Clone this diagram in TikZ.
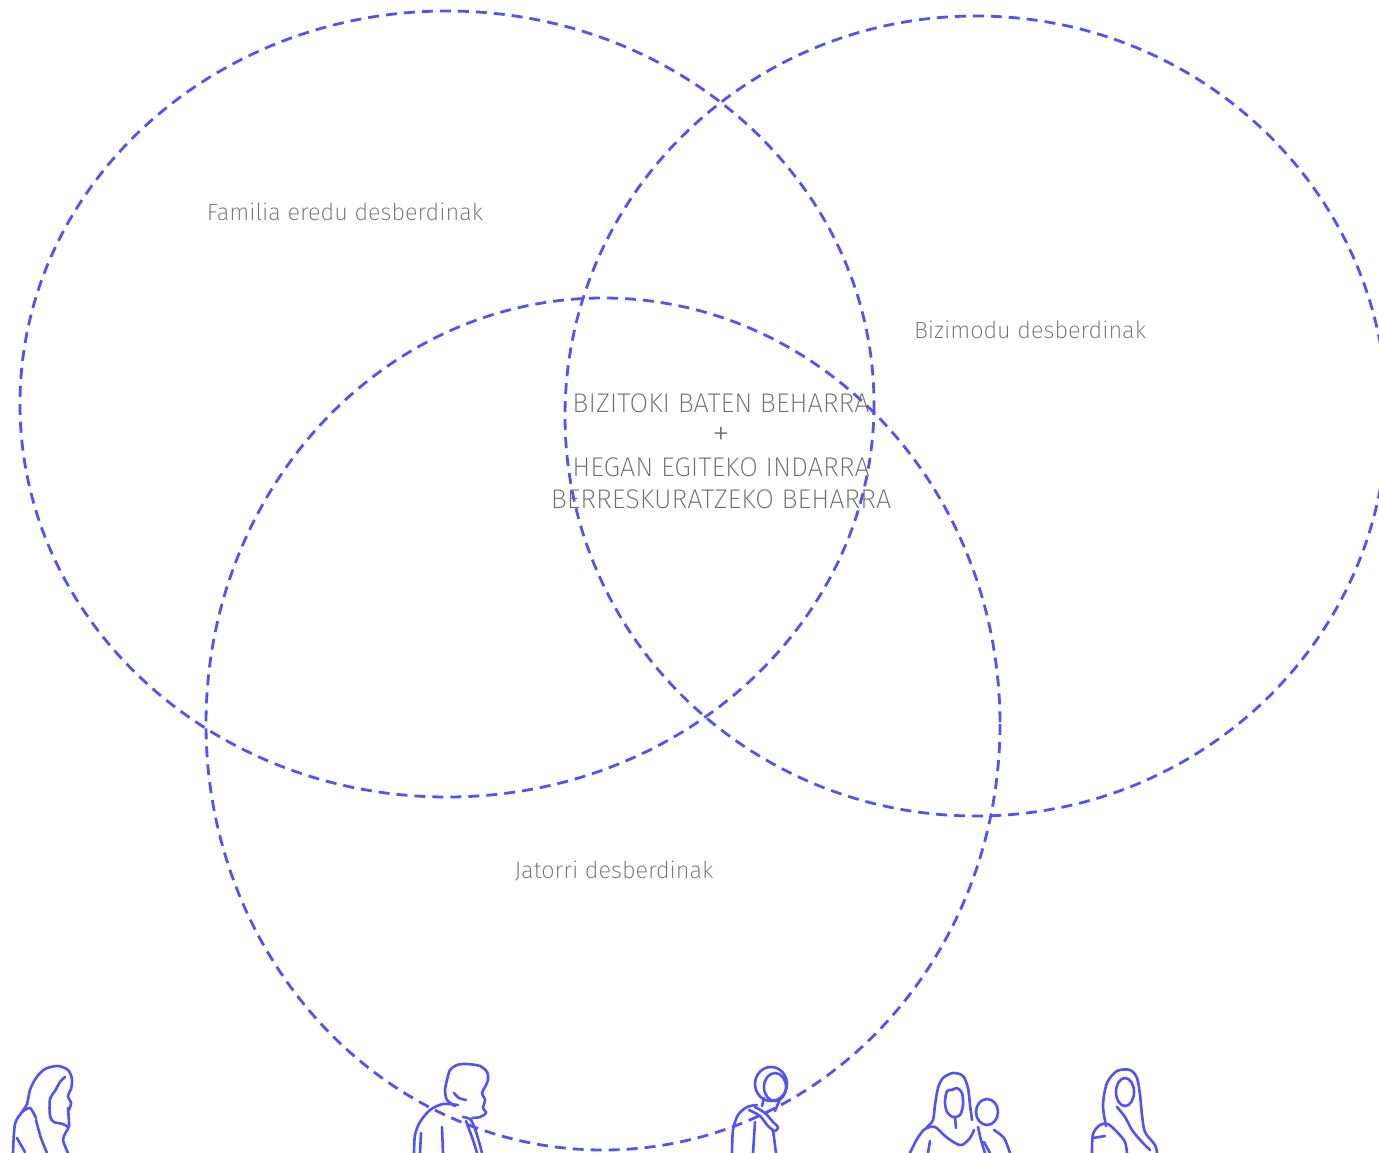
\documentclass[tikz,border=0pt]{standalone}
\usepackage{fontspec}
\newfontfamily\thinfont{Fira Sans ExtraLight}
\definecolor{vblue}{RGB}{82,82,245}
\definecolor{txtgray}{RGB}{110,110,110}
\begin{document}
\begin{tikzpicture}[x=1pt,y=-1pt,
  venn/.style={draw=vblue,line width=2.8pt,dash pattern=on 11pt off 7pt},
  lbl/.style={font=\thinfont\fontsize{23.5}{28}\selectfont,text=txtgray,inner sep=0pt},
  caps/.style={font=\thinfont\fontsize{27}{32}\selectfont,text=txtgray,inner sep=0pt},
  fig/.style={draw=vblue,line width=2.6pt,line cap=round,line join=round}]
\useasboundingbox (0,0) rectangle (1379,1153);
\begin{scope}
\clip (0,0) rectangle (1379,1153);
% circles
\draw[venn] (447,404) ellipse [x radius=427, y radius=393];
\draw[venn] (976,416) ellipse [x radius=411, y radius=400];
\draw[venn] (603,724) ellipse [x radius=397, y radius=426];

% labels
\node[lbl] (fam) at (345,212) {Familia eredu desberdinak};
\node[lbl] (biz) at (1030,330) {Bizimodu desberdinak};
\node[lbl] (jat) at (614,871) {Jatorri desberdinak};
\node[caps] (l1) at (721,403) {BIZITOKI BATEN BEHARRA};
\node[caps,font=\thinfont\fontsize{36}{36}\selectfont] (plus) at (721,436) {+};
\node[caps] (l3) at (721,467) {HEGAN EGITEKO INDARRA};
\node[caps] (l4) at (721,499) {BERRESKURATZEKO BEHARRA};

% figure 1: woman, hand on chin
\draw[fig] plot[smooth] coordinates {(13,1153) (15,1124) (22,1112) (27,1104) (30,1090) (36,1078) (45,1069) (58,1066) (68,1070) (72,1079) (71,1089) (68,1096) (71,1103) (69,1110)};
\draw[fig] plot[smooth] coordinates {(65,1077) (60,1082) (55,1091) (50,1099) (50,1116) (54,1122) (63,1124) (68,1127)};
\draw[fig] plot[smooth] coordinates {(68,1108) (69,1126) (66,1132) (63,1140) (68,1153)};
\draw[fig] plot[smooth] coordinates {(36,1120) (41,1138) (47,1153)};
\draw[fig] plot[smooth] coordinates {(17,1138) (25,1152)};
\draw[fig] plot[smooth] coordinates {(22,1112) (30,1108) (36,1118)};

% figure 2: man with curly hair
\draw[fig] plot[smooth] coordinates {(447,1080) (450,1070) (457,1065) (467,1064) (480,1066) (487,1072) (488,1080) (485,1087) (482,1093) (485,1100) (483,1108) (486,1113) (480,1117) (472,1118)};
\draw[fig] plot[smooth] coordinates {(447,1080) (445,1090) (447,1100) (455,1106)};
\draw[fig] plot[smooth] coordinates {(454,1093) (459,1098) (466,1100)};
\draw[fig] plot[smooth] coordinates {(458,1105) (443,1104) (430,1110) (420,1122) (415,1135) (414,1153)};
\draw[fig] plot[smooth] coordinates {(421,1133) (420,1153)};
\draw[fig] plot[smooth] coordinates {(442,1127) (443,1153)};
\draw[fig] plot[smooth] coordinates {(463,1117) (471,1120) (477,1135) (482,1153)};
\draw[fig] plot[smooth] coordinates {(466,1121) (473,1140) (477,1153)};

% figure 3: child with hood
\draw[fig] (771,1084) ellipse [x radius=16, y radius=17];
\draw[fig] (775,1087) ellipse [x radius=11, y radius=14];
\draw[fig] plot[smooth] coordinates {(732,1153) (733,1130) (738,1115) (747,1107) (757,1105)};
\draw[fig] plot[smooth] coordinates {(755,1107) (765,1113) (773,1122) (778,1127) (775,1131) (768,1126) (760,1116) (749,1110)};
\draw[fig] plot[smooth] coordinates {(773,1130) (776,1153)};
\draw[fig] plot[smooth] coordinates {(755,1122) (753,1153)};
\draw[fig] plot[smooth] coordinates {(764,1098) (762,1106)};
\draw[fig] plot[smooth] coordinates {(780,1099) (775,1111)};

% figure 4: woman with child
\draw[fig] plot[smooth] coordinates {(927,1127) (933,1120) (935,1105) (938,1088) (943,1078) (953,1073) (963,1076) (968,1088) (970,1105) (972,1120)};
\draw[fig] plot[smooth cycle] coordinates {(947,1091) (945,1102) (947,1112) (953,1117) (960,1115) (963,1105) (962,1093) (957,1088) (952,1090)};
\draw[fig] plot[smooth] coordinates {(955,1117) (956,1128)};
\draw[fig] plot[smooth] coordinates {(910,1153) (917,1139) (925,1129) (935,1127) (945,1136) (955,1143) (962,1145) (970,1138) (974,1130)};
\draw[fig] plot[smooth] coordinates {(930,1141) (928,1153)};
\draw[fig] (987,1112) ellipse [x radius=11, y radius=13];
\draw[fig] plot[smooth] coordinates {(978,1127) (981,1140) (985,1153)};
\draw[fig] plot[smooth] coordinates {(994,1130) (1004,1138) (1010,1153)};
\draw[fig] plot[smooth] coordinates {(984,1142) (990,1153)};

% figure 5: woman with long hair
\draw[fig] plot[smooth] coordinates {(1106,1126) (1103,1105) (1107,1083) (1117,1071) (1130,1070) (1137,1078) (1140,1095) (1142,1115) (1145,1132) (1155,1145) (1157,1153)};
\draw[fig] (1125,1092) ellipse [x radius=9, y radius=14];
\draw[fig] plot[smooth] coordinates {(1117,1107) (1125,1117) (1132,1130) (1142,1142) (1150,1150)};
\draw[fig] plot[smooth] coordinates {(1092,1153) (1093,1134) (1100,1125) (1108,1124) (1118,1133) (1125,1142) (1127,1153)};
\draw[fig] plot[smooth] coordinates {(1093,1138) (1105,1136)};
\end{scope}
\end{tikzpicture}
\end{document}
